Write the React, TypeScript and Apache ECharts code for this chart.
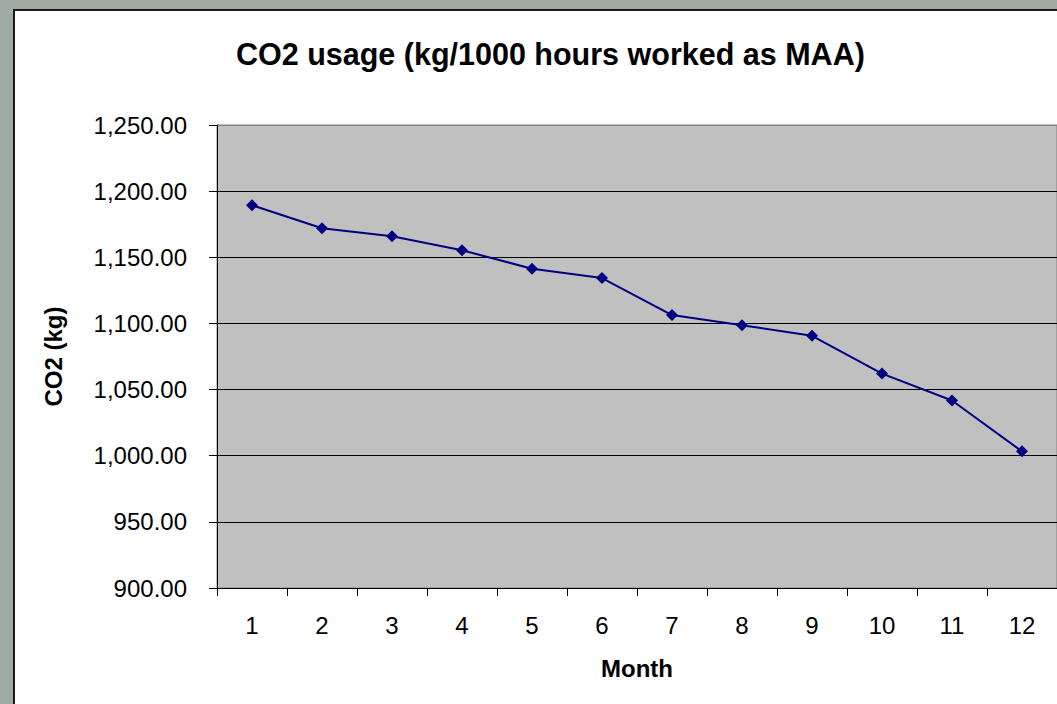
import React, { useEffect, useRef } from "react";
import * as echarts from "echarts";

const months: string[] = ["1", "2", "3", "4", "5", "6", "7", "8", "9", "10", "11", "12"];
const co2Values: number[] = [1189.4, 1172, 1165.9, 1155.3, 1141.4, 1134.3, 1106.3, 1098.7, 1090.6, 1062.1, 1041.7, 1003.3];
const chartTitle = "CO2 usage (kg/1000 hours worked as MAA)";
const xName = "Month";
const yName = "CO2 (kg)";
const yMin = 900;
const yMax = 1250;
const yStep = 50;

const FONT = "'Liberation Sans', Arial, sans-serif";

export default function App() {
  const ref = useRef<HTMLDivElement>(null);
  useEffect(() => {
    if (!ref.current) return;
    const chart = echarts.init(ref.current, null, { renderer: "svg" });
    const tickCount = Math.round((yMax - yMin) / yStep) + 1;
    const splitColors = Array.from({ length: tickCount }, (_, i) => (i === tickCount - 1 ? "#808080" : "#000"));
    chart.setOption({
      animation: false,
      backgroundColor: "transparent",
      title: {
        text: chartTitle,
        left: 231,
        top: 33,
        textStyle: { fontFamily: FONT, fontSize: 30.5, fontWeight: "bold", color: "#000" },
      },
      grid: {
        left: 217,
        top: 125,
        right: -4,
        bottom: 116,
        show: true,
        backgroundColor: "#c0c0c0",
        borderColor: "#808080",
        borderWidth: 1,
      },
      xAxis: {
        type: "category",
        data: months,
        boundaryGap: true,
        name: xName,
        nameLocation: "middle",
        nameGap: 68,
        nameTextStyle: { fontFamily: FONT, fontSize: 24, fontWeight: "bold", color: "#000" },
        axisLine: { show: true, lineStyle: { color: "#000", width: 1 } },
        axisTick: { show: true, length: 8, alignWithLabel: false, lineStyle: { color: "#000" } },
        axisLabel: { fontFamily: FONT, fontSize: 24, color: "#000", margin: 25 },
        splitLine: { show: false },
      },
      yAxis: {
        type: "value",
        min: yMin,
        max: yMax,
        interval: yStep,
        name: yName,
        nameLocation: "middle",
        nameGap: 152,
        nameTextStyle: { fontFamily: FONT, fontSize: 24, fontWeight: "bold", color: "#000" },
        axisLine: { show: true, lineStyle: { color: "#000", width: 1 } },
        axisTick: { show: true, length: 8, lineStyle: { color: "#000" } },
        axisLabel: {
          fontFamily: FONT,
          fontSize: 24,
          color: "#000",
          margin: 30,
          formatter: (v: number) =>
            v.toLocaleString("en-US", { minimumFractionDigits: 2, maximumFractionDigits: 2 }),
        },
        splitLine: { show: true, lineStyle: { color: splitColors, width: 1 } },
      },
      series: [
        {
          type: "line",
          data: co2Values,
          symbol: "diamond",
          symbolSize: 12,
          lineStyle: { color: "#000080", width: 2 },
          itemStyle: { color: "#000080" },
        },
      ],
    });
    return () => chart.dispose();
  }, []);

  return (
    <div style={{ position: "fixed", left: 0, top: 0, width: 1057, height: 704, background: "#9faaa2", overflow: "hidden" }}>
      <div
        style={{
          position: "absolute",
          left: 13,
          top: 9,
          width: 1100,
          height: 800,
          background: "#fff",
          border: "2px solid #1a1a1a",
          boxSizing: "border-box",
        }}
      />
      <div ref={ref} style={{ position: "absolute", left: 0, top: 0, width: 1057, height: 704 }} />
    </div>
  );
}
